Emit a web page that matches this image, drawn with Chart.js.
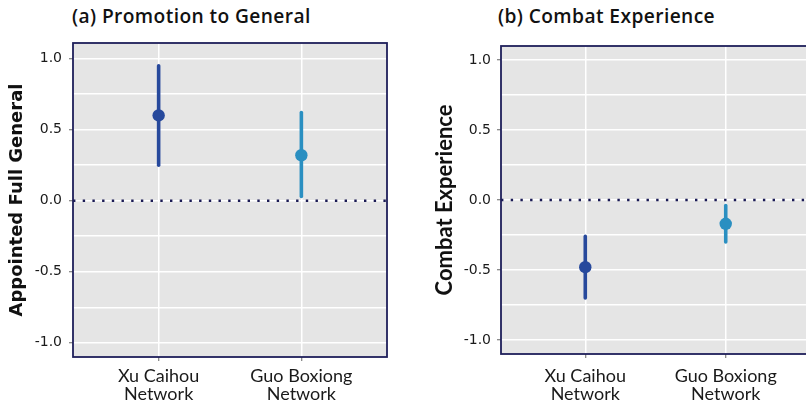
<!DOCTYPE html>
<html>
<head>
<meta charset="utf-8">
<script src="https://cdn.jsdelivr.net/npm/chart.js@4.4.1/dist/chart.umd.min.js"></script>
<style>
  html, body { margin: 0; padding: 0; background: #ffffff; overflow: hidden; width: 806px; height: 402px; }
  .wrap { position: absolute; top: 0; }
  .ptitle { position: absolute; top: 5px; font: 600 19.2px "Open Sans", sans-serif; line-height: 21px; letter-spacing: 0.4px; color: #111; white-space: nowrap; }
</style>
</head>
<body>
<div class="ptitle" style="left:72px">(a) Promotion to General</div>
<div class="ptitle" style="left:498px">(b) Combat Experience</div>
<div class="wrap" style="left:0px"><canvas id="c1" width="400" height="402"></canvas></div>
<div class="wrap" style="left:420px"><canvas id="c2" width="400" height="402"></canvas></div>
<script>
// ---- data ----
const categories = ['Xu Caihou Network', 'Guo Boxiong Network'];
const promoEst  = [0.60, 0.32];
const promoLow  = [0.25, 0.03];
const promoHigh = [0.95, 0.62];
const combatEst  = [-0.48, -0.17];
const combatLow  = [-0.70, -0.30];
const combatHigh = [-0.26, -0.04];
const yTickLabels = [-1.0, -0.5, 0.0, 0.5, 1.0];
const yMinorGrid  = [-0.75, -0.25, 0.25, 0.75];
const axisTitles = ['Appointed Full General', 'Combat Experience'];

const colors = ['#27499c', '#2a8fc1'];

const panelPlugin = {
  id: 'panel',
  beforeDraw(chart) {
    const a = chart.chartArea, ctx = chart.ctx;
    ctx.save();
    ctx.fillStyle = '#e5e5e5';
    ctx.fillRect(a.left, a.top, a.right - a.left, a.bottom - a.top);
    ctx.restore();
  },
  afterDraw(chart) {
    const a = chart.chartArea, ctx = chart.ctx;
    ctx.save();
    ctx.strokeStyle = '#1e1f5a';
    ctx.lineWidth = 1.8;
    ctx.strokeRect(a.left, a.top, a.right - a.left, a.bottom - a.top);
    ctx.restore();
  }
};

function splitLabel(s) {
  const i = s.lastIndexOf(' ');
  return [s.slice(0, i), s.slice(i + 1)];
}

function makeChart(id, est, low, high, cfg) {
  const datasets = [];
  datasets.push({
    type: 'line',
    data: [{x: 0.4, y: 0}, {x: 2.6, y: 0}],
    borderColor: '#1b1b55', borderWidth: 2.6, borderDash: [2.4, 7.3],
    pointRadius: 0, order: 3
  });
  for (let i = 0; i < categories.length; i++) {
    datasets.push({
      type: 'line',
      data: [{x: i + 1, y: low[i]}, {x: i + 1, y: high[i]}],
      borderColor: colors[i], borderWidth: 3.6, borderCapStyle: 'round',
      pointRadius: 0, order: 2
    });
  }
  datasets.push({
    type: 'scatter',
    data: est.map((v, i) => ({x: i + 1, y: v})),
    backgroundColor: colors, borderColor: colors, borderWidth: 0,
    pointRadius: 6.2, order: 1
  });

  const allY = yTickLabels.concat(yMinorGrid).sort((a, b) => a - b);
  const isMajor = v => yTickLabels.some(t => Math.abs(t - v) < 1e-9);

  return new Chart(document.getElementById(id), {
    data: { datasets },
    options: {
      responsive: false, animation: false, devicePixelRatio: 1,
      layout: { padding: cfg.padding },
      plugins: { legend: { display: false }, tooltip: { enabled: false } },
      scales: {
        x: {
          type: 'linear', min: 0.4, max: 2.6,
          afterBuildTicks: s => { s.ticks = categories.map((c, i) => ({value: i + 1})); },
          afterFit: s => { s.height = cfg.xHeight; },
          ticks: {
            callback: (v, i) => splitLabel(categories[i]),
            font: { family: 'Lato', size: 18, lineHeight: 1.0 },
            color: '#1a1a1a', padding: cfg.xPad, maxRotation: 0, autoSkip: false
          },
          grid: { color: '#ffffff', lineWidth: 1.5, tickColor: '#666', tickWidth: 1, tickLength: 4 },
          border: { display: false }
        },
        y: {
          type: 'linear', min: cfg.yMin, max: cfg.yMax,
          afterBuildTicks: s => { s.ticks = allY.map(v => ({value: v})); },
          afterFit: s => { s.width = cfg.yWidth; },
          ticks: {
            callback: v => isMajor(v) ? v.toFixed(1) : '',
            font: { family: 'DejaVu Sans', size: 14 },
            color: '#1a1a1a', padding: cfg.yPad, autoSkip: false
          },
          grid: {
            color: '#ffffff', lineWidth: 1.5,
            tickColor: c => (c.tick && isMajor(c.tick.value)) ? '#666' : 'rgba(0,0,0,0)',
            tickWidth: 1, tickLength: 4
          },
          border: { display: false },
          title: {
            display: true, text: cfg.yTitle,
            font: cfg.yTitleFont, color: '#111',
            padding: { top: cfg.yTitlePad, bottom: 0 }
          }
        }
      }
    },
    plugins: [panelPlugin]
  });
}

makeChart('c1', promoEst, promoLow, promoHigh, {
  padding: { top: 43, right: 13, bottom: 0, left: 0 },
  xHeight: 45, yWidth: 73, yMin: -1.1, yMax: 1.11, xPad: 6, yPad: 7,
  yTitle: axisTitles[0], yTitleFont: { family: 'DejaVu Sans', size: 18, weight: 'bold' }, yTitlePad: 7
});
makeChart('c2', combatEst, combatLow, combatHigh, {
  padding: { top: 46, right: 10, bottom: 0, left: 0 },
  xHeight: 48, yWidth: 81, yMin: -1.1, yMax: 1.1, xPad: 9, yPad: 6,
  yTitle: axisTitles[1], yTitleFont: { family: 'Lato', size: 22, weight: 'bold' }, yTitlePad: 12
});
</script>
</body>
</html>
